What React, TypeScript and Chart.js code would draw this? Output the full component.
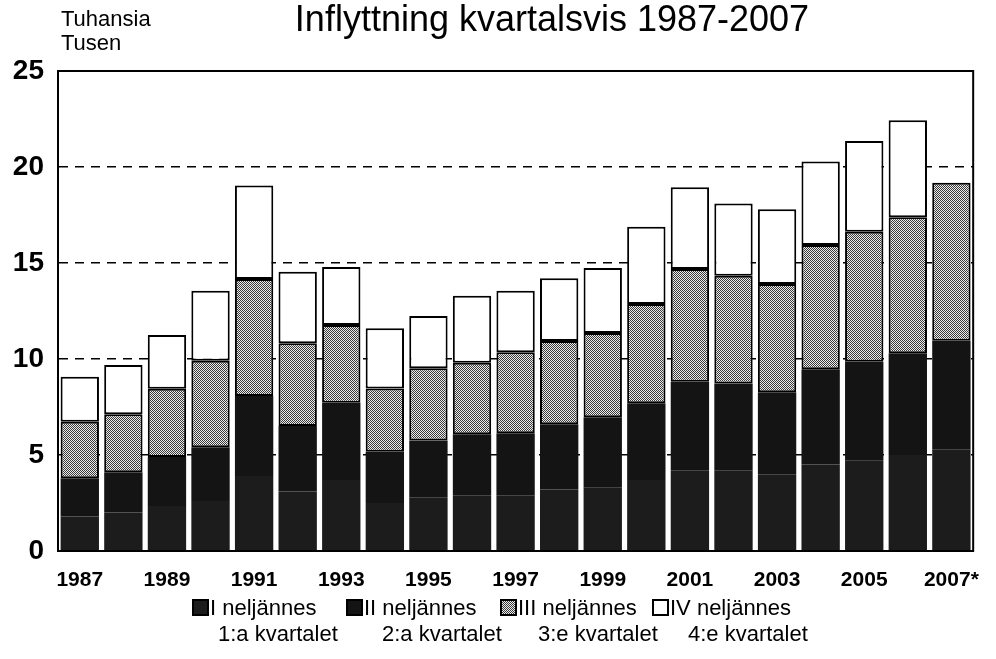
import React, { useEffect, useRef } from "react";
import { Chart, registerables } from "chart.js";

Chart.register(...registerables);

const years = [
  "1987", "1988", "1989", "1990", "1991", "1992", "1993", "1994", "1995", "1996", "1997",
  "1998", "1999", "2000", "2001", "2002", "2003", "2004", "2005", "2006", "2007*",
];
const q1 = [1.8, 2.0, 2.35, 2.6, 3.9, 3.1, 3.7, 2.5, 2.8, 2.9, 2.9, 3.2, 3.3, 3.7, 4.2, 4.2, 4.0, 4.5, 4.7, 5.0, 5.3];
const q2 = [1.99, 2.1, 2.55, 2.8, 4.17, 3.41, 4.02, 2.67, 2.95, 3.18, 3.23, 3.4, 3.66, 3.99, 4.62, 4.53, 4.27, 4.96, 5.16, 5.3, 5.65];
const q3 = [2.94, 3.02, 3.55, 4.51, 6.1, 4.31, 4.05, 3.3, 3.77, 3.73, 4.22, 4.34, 4.39, 5.17, 5.87, 5.61, 5.63, 6.48, 6.77, 7.08, 8.23];
const q4: (number | null)[] = [2.35, 2.57, 2.8, 3.65, 4.86, 3.73, 3.02, 3.13, 2.72, 3.49, 3.21, 3.26, 3.39, 4.03, 4.25, 3.76, 3.9, 4.34, 4.72, 5.05, null];

const seriesNames = ["I neljännes", "II neljännes", "III neljännes", "IV neljännes"];
const seriesNamesSv = ["1:a kvartalet", "2:a kvartalet", "3:e kvartalet", "4:e kvartalet"];
const yTicks = [0, 5, 10, 15, 20, 25];

const titleText = "Inflyttning kvartalsvis 1987-2007";
const unitLines = ["Tuhansia", "Tusen"];

const FONT = "'Liberation Sans', Arial, Helvetica, sans-serif";

function makePattern(): CanvasPattern | string {
  const c = document.createElement("canvas");
  c.width = 4;
  c.height = 4;
  const g = c.getContext("2d");
  if (!g) return "#909090";
  g.fillStyle = "#ececec";
  g.fillRect(0, 0, 4, 4);
  g.fillStyle = "#3a3a3a";
  for (let y = 0; y < 4; y++) {
    for (let x = 0; x < 4; x++) {
      if ((x + y) % 2 === 0) g.fillRect(x, y, 1, 1);
    }
  }
  const p = g.createPattern(c, "repeat");
  return p || "#909090";
}

export default function App() {
  const ref = useRef<HTMLCanvasElement | null>(null);

  useEffect(() => {
    document.body.style.margin = "0";
    const canvas = ref.current;
    if (!canvas) return;
    const pattern = makePattern();
    const fills: (string | CanvasPattern)[] = ["#1c1c1c", "#141414", pattern, "#ffffff"];

    const decor = {
      id: "decor",
      afterDatasetsDraw(chart: any) {
        const ctx = chart.ctx as CanvasRenderingContext2D;
        const a = chart.chartArea;
        ctx.save();
        ctx.strokeStyle = "#000";
        ctx.lineWidth = 2;
        ctx.strokeRect(a.left, a.top, a.right - a.left, a.bottom - a.top);
        ctx.restore();
      },
      afterDraw(chart: any) {
        const ctx = chart.ctx as CanvasRenderingContext2D;
        ctx.save();
        ctx.fillStyle = "#000";
        ctx.textBaseline = "alphabetic";
        // title
        ctx.font = `36px ${FONT}`;
        ctx.textAlign = "center";
        ctx.fillText(titleText, 552, 31);
        // unit
        ctx.font = `22px ${FONT}`;
        ctx.textAlign = "left";
        ctx.fillText(unitLines[0], 61, 26);
        ctx.fillText(unitLines[1], 61, 50);
        // legend
        const swX = [193, 347, 501, 653];
        const row2X = [218, 382, 538, 688];
        ctx.font = `22px ${FONT}`;
        for (let i = 0; i < 4; i++) {
          const f = fills[i];
          ctx.fillStyle = f as any;
          ctx.fillRect(swX[i], 600, 15, 15);
          ctx.strokeStyle = "#000";
          ctx.lineWidth = 2;
          ctx.strokeRect(swX[i], 600, 15, 15);
          ctx.fillStyle = "#000";
          ctx.fillText(seriesNames[i], swX[i] + 17, 615);
          ctx.fillText(seriesNamesSv[i], row2X[i], 641);
        }
        ctx.restore();
      },
    };

    const series = [q1, q2, q3, q4];
    const chart = new Chart(canvas, {
      type: "bar",
      data: {
        labels: years,
        datasets: series.map((d, i) => ({
          label: seriesNames[i],
          data: d as any,
          backgroundColor: fills[i] as any,
          borderColor: i < 2 ? (fills[i] as any) : "#000",
          borderWidth: i < 2 ? 0 : 2,
          borderSkipped: false,
          barPercentage: 0.88,
          categoryPercentage: 1,
        })),
      },
      options: {
        responsive: false,
        animation: false,
        devicePixelRatio: 1,
        layout: { padding: { top: 71, right: 7, left: 0, bottom: 0 } },
        plugins: {
          legend: { display: false },
          title: { display: false },
          tooltip: { enabled: false },
        },
        scales: {
          x: {
            stacked: true,
            grid: { display: false, drawTicks: false },
            border: { display: true, color: "#000", width: 2 },
            ticks: {
              autoSkip: false,
              maxRotation: 0,
              padding: 17,
              color: "#000",
              font: { family: FONT, size: 21, weight: "bold" },
              callback: (_v: any, i: number) => (i % 2 === 0 ? years[i] : ""),
            },
            afterFit: (s: any) => {
              s.height = 108;
            },
          },
          y: {
            stacked: true,
            min: 0,
            max: 25,
            afterBuildTicks: (s: any) => {
              s.ticks = yTicks.map((v) => ({ value: v }));
            },
            grid: {
              drawTicks: false,
              color: (c: any) => (c.tick && (c.tick.value === 0 || c.tick.value === 25) ? "rgba(0,0,0,0)" : "#000"),
              lineWidth: 1.5,
            },
            border: { display: true, color: "#000", width: 2, dash: [9, 7] },
            ticks: {
              padding: 14,
              color: "#000",
              font: { family: FONT, size: 28, weight: "bold" },
            },
            afterFit: (s: any) => {
              s.width = 58;
            },
          },
        },
      },
      plugins: [decor],
    });
    return () => chart.destroy();
  }, []);

  return <canvas ref={ref} width={996} height={659} style={{ display: "block" }} />;
}
